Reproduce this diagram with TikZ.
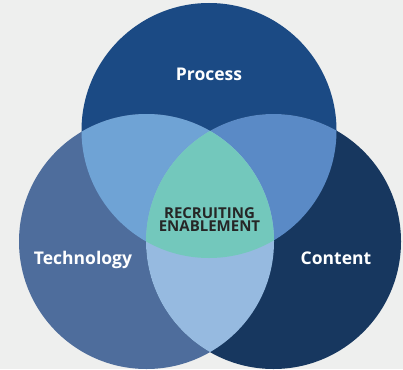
\documentclass[tikz,border=0pt]{standalone}
\usepackage{fontspec}
\setmainfont{Open Sans}
\usepackage{tikz}
\usetikzlibrary{positioning}

\definecolor{bgcol}{HTML}{EEEFEE}
\definecolor{processcol}{HTML}{1B4A84}
\definecolor{techcol}{HTML}{4E6D9C}
\definecolor{contentcol}{HTML}{17375F}
\definecolor{proctechcol}{HTML}{6FA3D5}
\definecolor{proccontcol}{HTML}{5A8AC6}
\definecolor{techcontcol}{HTML}{96BAE0}
\definecolor{centercol}{HTML}{73C8BC}
\definecolor{textdark}{HTML}{262626}

\tikzset{
    lbl/.style={text=white, font=\bfseries\fontsize{17.5}{18}\selectfont, anchor=base, inner sep=0pt},
    mid/.style={text=textdark, font=\bfseries\fontsize{15}{13}\selectfont, align=center, inner sep=0pt}
}

\begin{document}
\begin{tikzpicture}[x=1pt,y=-1pt]
    \fill[bgcol] (0,0) rectangle (403,369);

    \def\rad{127.5pt}
    \coordinate (P) at (209,130.5);
    \coordinate (T) at (146.5,241.5);
    \coordinate (C) at (273.5,241.5);

    % the three circles
    \fill[processcol] (P) circle (\rad);
    \fill[techcol] (T) circle (\rad);
    \fill[contentcol] (C) circle (\rad);

    % overlaps
    \begin{scope}
        \clip (P) circle (\rad);
        \fill[proctechcol] (T) circle (\rad);
        \fill[proccontcol] (C) circle (\rad);
    \end{scope}
    \begin{scope}
        \clip (T) circle (\rad);
        \fill[techcontcol] (C) circle (\rad);
        \clip (C) circle (\rad);
        \fill[centercol] (P) circle (\rad);
    \end{scope}

    % labels
    \node[lbl] (process) at (209,80) {Process};
    \node[lbl] (technology) at (83,264.5) {Technology};
    \node[lbl] (content) at (336,264.5) {Content};
    \node[mid] (core) at (209.5,219.2) {RECRUITING\\ENABLEMENT};
\end{tikzpicture}
\end{document}
